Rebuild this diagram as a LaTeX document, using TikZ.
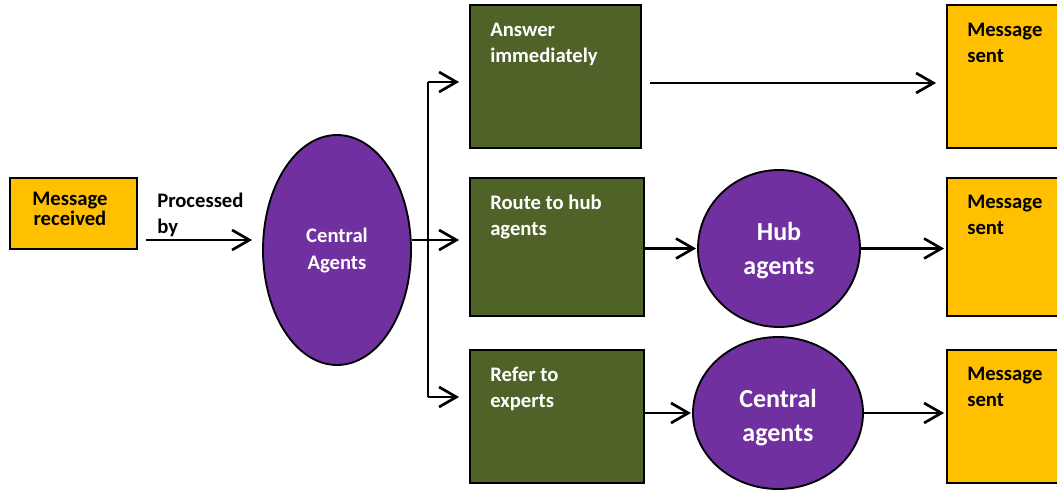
\documentclass[tikz,border=0pt]{standalone}
\usepackage{fontspec}
\setmainfont{Carlito}
\usetikzlibrary{arrows.meta,shapes.geometric}
\definecolor{msgyellow}{HTML}{FFC000}
\definecolor{taskgreen}{HTML}{4F6228}
\definecolor{agentpurple}{HTML}{7030A0}
\begin{document}
\begin{tikzpicture}[x=0.75pt,y=-0.75pt,
  frame/.style={draw=black, line width=1.4pt, inner sep=0},
  msgbox/.style={frame, rectangle, fill=msgyellow},
  taskbox/.style={frame, rectangle, fill=taskgreen},
  agent/.style={frame, ellipse, fill=agentpurple},
  label/.style={inner sep=0, align=left, font=\bfseries\fontsize{15.5}{19.5}\selectfont},
  whitelabel/.style={label, text=white},
  biglabel/.style={inner sep=0, align=center, text=white, font=\bfseries\fontsize{19.5}{25.5}\selectfont},
  link/.style={line width=2pt},
  arr/.style={link, -{Straight Barb[length=13pt,width=15pt]}}]
\useasboundingbox (0,0) rectangle (1057,490);
\clip (0,0) rectangle (1057,490);

% incoming message and the central agents
\node[msgbox, minimum width=95.25pt, minimum height=53.25pt] (recv) at (73.5,213.5) {};
\node[label, align=center, font=\bfseries\fontsize{15.5}{15}\selectfont] (recvtxt) at (70,209) {Message\\received};
\node[agent, minimum width=111pt, minimum height=172.5pt] (central) at (337,250) {};
\node[whitelabel, align=center, font=\bfseries\fontsize{15.5}{20}\selectfont] (centraltxt) at (337,250.5) {Central\\Agents};
\node[label, anchor=north west] (proc) at (157,193) {Processed\\by};

% three ways of handling it
\node[taskbox, minimum width=128.25pt, minimum height=107.25pt] (taskA) at (555.5,76.5) {};
\node[taskbox, minimum width=130.5pt, minimum height=103.5pt] (taskB) at (557,247) {};
\node[taskbox, minimum width=130.5pt, minimum height=99.75pt] (taskC) at (557,416.5) {};
\node[whitelabel, anchor=north west] (taskAtxt) at (490,23) {Answer\\immediately};
\node[whitelabel, anchor=north west] (taskBtxt) at (490,195) {Route to hub\\agents};
\node[whitelabel, anchor=north west] (taskCtxt) at (490,367) {Refer to\\experts};

% further agents
\node[agent, minimum width=121.5pt, minimum height=117.75pt] (hub) at (779,248.5) {};
\node[biglabel] (hubtxt) at (779,250.5) {Hub\\agents};
\node[agent, minimum width=127.5pt, minimum height=114pt] (central2) at (778,413) {};
\node[biglabel] (central2txt) at (778,418) {Central\\agents};

% outgoing messages
\node[msgbox, minimum width=99.75pt, minimum height=107.25pt] (sentA) at (1013.5,76.5) {};
\node[msgbox, minimum width=99.75pt, minimum height=103.5pt] (sentB) at (1013.5,247) {};
\node[msgbox, minimum width=99.75pt, minimum height=99.75pt] (sentC) at (1013.5,416.5) {};
\node[label, anchor=north west] (sentAtxt) at (967,23) {Message\\sent};
\node[label, anchor=north west] (sentBtxt) at (967,195) {Message\\sent};
\node[label, anchor=north west] (sentCtxt) at (967,367) {Message\\sent};

% connectors
\coordinate (split) at (428,240);
\coordinate (rowA) at (428,82);
\coordinate (rowC) at (428,397);
\coordinate (outA) at (0,83);
\draw[arr, shorten <=6pt, shorten >=7.5pt] (recv.east |- split) -- (central.west |- split);
\draw[link] (central.east |- split) -- (split);
\draw[arr, shorten >=7.5pt] (split) -- (split -| taskB.west);
\draw[link] (rowA) -- (rowC);
\draw[arr, shorten >=7.5pt] (rowA) -- (rowA -| taskA.west);
\draw[arr, shorten >=7.5pt] (rowC) -- (rowC -| taskC.west);
\draw[arr, shorten <=6pt, shorten >=7.5pt] (taskA.east |- outA) -- (sentA.west |- outA);
\draw[arr, shorten >=0.8pt] (taskB.east |- hub) -- (hub.west);
\draw[arr, shorten >=1.5pt] (hub.east) -- (hub.east -| sentB.west);
\draw[arr, shorten >=0.8pt] (taskC.east |- central2) -- (central2.west);
\draw[arr, shorten >=1.5pt] (central2.east) -- (central2.east -| sentC.west);
\end{tikzpicture}
\end{document}
